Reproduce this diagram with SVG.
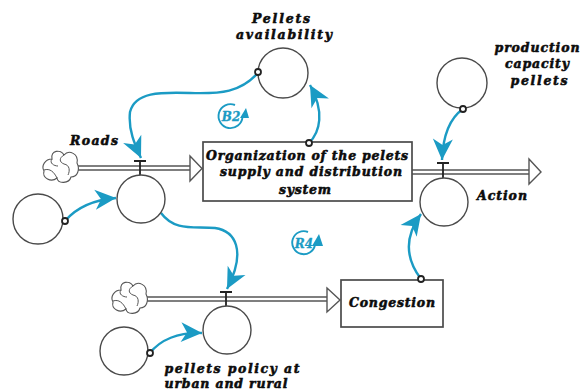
<svg xmlns="http://www.w3.org/2000/svg" width="585" height="392" viewBox="0 0 585 392">
<style>
text{font-family:"DejaVu Serif","Liberation Serif",serif;font-weight:bold;font-style:italic;fill:#0c0c0c;stroke:#0c0c0c;stroke-width:.55px;font-size:12.5px;text-anchor:middle}
.c{fill:#fff;stroke:#4a4a4a;stroke-width:1.4}
.b{fill:#fff;stroke:#4a4a4a;stroke-width:1.7}
.l{fill:none;stroke:#1b9bc4;stroke-width:2.4;marker-end:url(#a)}
.r{fill:#fff;stroke:#222;stroke-width:1.8}
.f{fill:none;stroke:#555;stroke-width:1.4}
.t{fill:none;stroke:#222;stroke-width:1.8}
.h{fill:#fff;stroke:#555;stroke-width:1.4}
.lp{fill:none;stroke:#1b9bc4;stroke-width:1.9}
.lt{fill:#1b9bc4;stroke:#1b9bc4;stroke-width:.3px;font-size:12px}
.k{fill:#fff;stroke:#555;stroke-width:1.1}
.ki{fill:none;stroke:#555;stroke-width:1}
</style>
<defs>
<marker id="a" markerUnits="userSpaceOnUse" markerWidth="26" markerHeight="26" refX="22" refY="13" orient="auto">
<path d="M1 3L22 13L1 23L7 13Z" fill="#1b9bc4"/>
</marker>
<g id="cloud">
<path class="k" d="M-9-8C-11-17 0-18 3-12C8-18 18-13 16-4C19 2 17 10 10 10C8 17-3 17-4 11C-10 16-19 11-17 4C-20-1-16-8-9-8Z"/>
<path class="ki" d="M3-12C-2-9-2-5 3-3C9-2 9 4 7 8M-9-8C-12-4-7-1-3-1M-17 3C-11 1-7 5-4 11"/>
</g>
</defs>
<g id="connectors">
<path class="f" d="M77 166H190M77 170H190"/>
<path class="h" d="M190 156L202 168.500L190 181Z"/>
<path class="t" d="M134 161H146M140 161V176"/>
<path class="f" d="M412 170H529M412 174H529"/>
<path class="h" d="M529 159L541 172L529 184Z"/>
<path class="t" d="M437 163H449M443 163V178"/>
<path class="f" d="M146 297H327M146 301H327"/>
<path class="h" d="M327 288L340 300L327 312Z"/>
<path class="t" d="M220 292H232M226 292V307"/>
<path class="l" d="M65 221C76 208 92 200 116 198"/>
<path class="l" d="M257 74C240 92 222 94 190 93C160 92 135 92 130 112C128 130 135 145 141 158"/>
<path class="l" d="M309 143C320 132 325 112 310 85"/>
<path class="l" d="M463 109C450 118 443 135 442 160"/>
<path class="l" d="M421 279C408 262 402 240 421 214"/>
<path class="l" d="M161 213C175 232 195 226 215 228C235 231 247 250 227 289"/>
<path class="l" d="M150 353C160 340 178 332 202 333"/>
</g>
<g id="cloud-roads"><use href="#cloud" x="61" y="167"/></g>
<g id="cloud-policy"><use href="#cloud" x="130" y="298"/></g>
<g id="box-organization">
<rect class="b" x="203" y="142" width="209" height="59"/>
<text x="307" y="160" textLength="202">Organization of the pelets</text>
<text x="311" y="176" textLength="182">supply and distribution</text>
<text x="305" y="194" textLength="52">system</text>
</g>
<g id="box-congestion">
<rect class="b" x="341" y="280" width="102" height="47"/>
<text x="392" y="307" textLength="86">Congestion</text>
</g>
<g id="node-pellets-availability">
<circle class="c" cx="283" cy="73" r="25"/>
<text x="281" y="23" textLength="58">Pellets</text>
<text x="284" y="39" textLength="96">availability</text>
</g>
<g id="node-production-capacity">
<circle class="c" cx="462" cy="83" r="25"/>
<text x="537" y="52" textLength="85">production</text>
<text x="537" y="68" textLength="64">capacity</text>
<text x="539" y="85" textLength="57">pellets</text>
</g>
<g id="node-roads">
<circle class="c" cx="141" cy="199" r="24"/>
<text x="94" y="145" textLength="48">Roads</text>
</g>
<g id="node-roads-input"><circle class="c" cx="38" cy="219" r="25"/></g>
<g id="node-action">
<circle class="c" cx="444" cy="202" r="24"/>
<text x="502" y="200" textLength="50">Action</text>
</g>
<g id="node-policy">
<circle class="c" cx="227" cy="330" r="24"/>
<text x="232" y="373" textLength="135">pellets policy at</text>
<text x="226" y="388" textLength="123">urban and rural</text>
</g>
<g id="node-policy-input"><circle class="c" cx="124" cy="351" r="24"/></g>
<g id="rings">
<circle class="r" cx="65" cy="221" r="3"/>
<circle class="r" cx="258" cy="72" r="3"/>
<circle class="r" cx="309" cy="143" r="3"/>
<circle class="r" cx="463" cy="109" r="3"/>
<circle class="r" cx="421" cy="279" r="3"/>
<circle class="r" cx="150" cy="353" r="3"/>
</g>
<g id="loop-b2">
<path class="lp" d="M235 105A12 12 0 1 0 242.500 117"/>
<path d="M246 108L240 118L249 118Z" fill="#1b9bc4"/>
<text class="lt" x="231" y="121">B2</text>
</g>
<g id="loop-r4">
<path class="lp" d="M308 232A11.500 11.500 0 1 0 315 245"/>
<path d="M319 234L312 246L323 246Z" fill="#1b9bc4"/>
<text class="lt" x="304" y="248">R4</text>
</g>
</svg>
